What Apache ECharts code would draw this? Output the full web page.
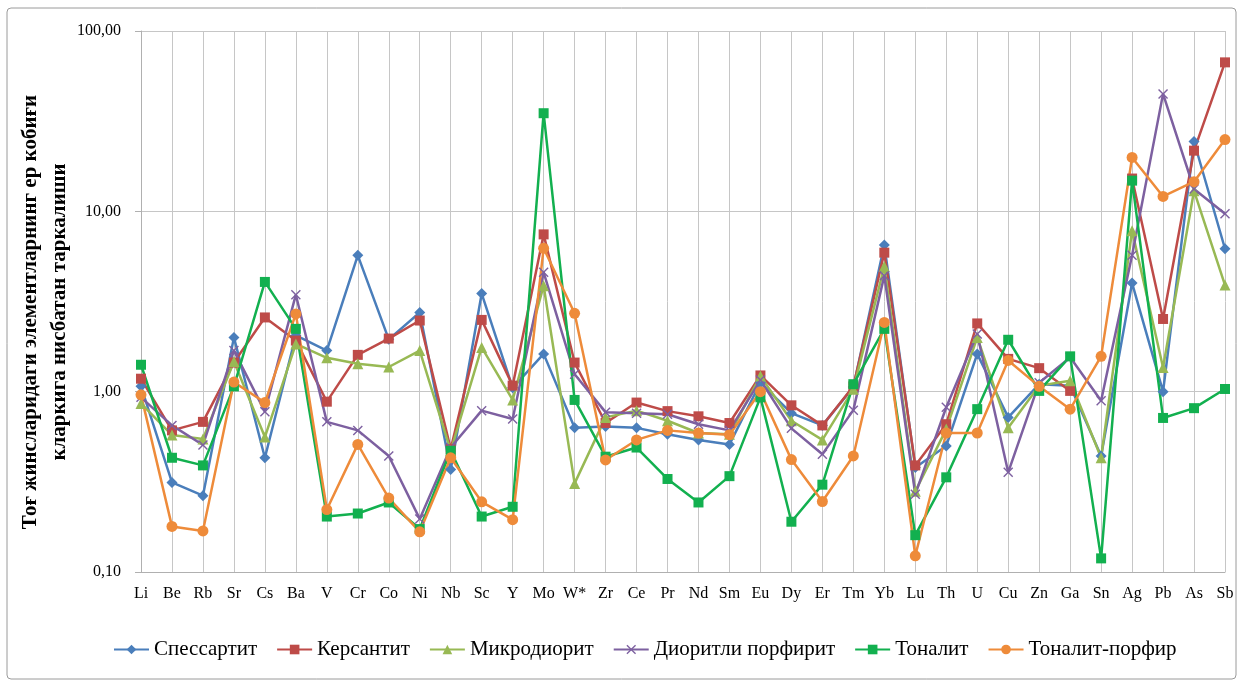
<!DOCTYPE html>
<html lang="uz" style="height: 100%">
<head>
<meta charset="utf-8">
<title>Elements relative to crustal clarke</title>
</head>
<body style="height: 100%; margin: 0; background: #fff">
<div id="container" style="width: 1244px; height: 689px"></div>

<script type="text/javascript" src="https://cdn.jsdelivr.net/npm/echarts/dist/echarts.min.js"></script>

<script type="text/javascript">

var categories = ['Li','Be','Rb','Sr','Cs','Ba','V','Cr','Co','Ni','Nb','Sc','Y','Mo','W*','Zr','Ce','Pr','Nd','Sm','Eu','Dy','Er','Tm','Yb','Lu','Th','U','Cu','Zn','Ga','Sn','Ag','Pb','As','Sb'];

var spessartite = [1.07,0.314,0.265,2.0,0.43,2.05,1.69,5.7,1.95,2.75,0.37,3.5,1.05,1.62,0.63,0.64,0.63,0.58,0.54,0.51,1.12,0.76,0.65,1.06,6.5,0.38,0.50,1.62,0.72,1.1,1.08,0.44,4.0,1.0,24.4,6.2];
var kersantite = [1.18,0.61,0.68,1.45,2.58,1.92,0.88,1.60,1.97,2.48,0.48,2.5,1.08,7.45,1.45,0.67,0.87,0.78,0.73,0.67,1.23,0.84,0.65,1.07,5.9,0.39,0.66,2.39,1.52,1.35,1.01,null,15.2,2.53,21.7,67];
var microdiorite = [0.86,0.575,0.547,1.47,0.56,1.84,1.54,1.43,1.37,1.69,0.47,1.76,0.9,3.87,0.31,0.72,0.785,0.69,0.59,0.58,1.22,0.69,0.54,1.03,4.95,0.28,0.62,2.0,0.63,1.08,1.15,0.43,7.8,1.36,13.0,3.9];
var dioritePorphyrite = [0.93,0.65,0.506,1.69,0.775,3.45,0.68,0.61,0.44,0.197,0.49,0.785,0.705,4.59,1.25,0.77,0.76,0.75,0.66,0.61,1.16,0.626,0.45,0.79,4.4,0.27,0.82,2.09,0.357,1.12,1.55,0.89,5.7,44.8,13.3,9.7];
var tonalite = [1.41,0.43,0.39,1.07,4.06,2.23,0.203,0.211,0.243,0.173,0.47,0.203,0.23,35,0.9,0.436,0.49,0.328,0.243,0.34,0.93,0.19,0.305,1.10,2.23,0.16,0.335,0.80,1.94,1.01,1.57,0.119,14.8,0.715,0.81,1.035];
var tonalitePorphyry = [0.96,0.179,0.169,1.13,0.87,2.7,0.222,0.51,0.257,0.167,0.43,0.245,0.195,6.24,2.72,0.418,0.54,0.61,0.59,0.577,1.0,0.42,0.246,0.44,2.42,0.123,0.59,0.59,1.49,1.07,0.8,1.57,19.9,12.1,14.6,25];

var yTicks = [0.1, 1, 10, 100];

var dom = document.getElementById('container');
var myChart = echarts.init(dom);

var serif = '"Liberation Serif", "DejaVu Serif", serif';
var crossPath = 'path://M0,1L1,0L5,4L9,0L10,1L6,5L10,9L9,10L5,6L1,10L0,9L4,5Z';

function mkSeries(name, data, color, symbol, size) {
    return {
        name: name,
        type: 'line',
        data: data,
        symbol: symbol,
        symbolSize: size,
        showAllSymbol: true,
        connectNulls: false,
        lineStyle: { width: 2.5, color: color },
        itemStyle: { color: color },
        emphasis: { disabled: true }
    };
}

var option = {
    animation: false,
    textStyle: { fontFamily: serif },
    graphic: [
        {
            type: 'rect',
            shape: { x: 7, y: 8, width: 1229, height: 671, r: 4 },
            style: { fill: 'none', stroke: '#9a9a9a', lineWidth: 1 }
        },
        {
            type: 'text',
            x: 45,
            y: 312,
            rotation: Math.PI / 2,
            style: {
                text: 'Тоғ жинсларидаги элементларнинг ер кобиғи\nкларкига нисбатан таркалиши',
                font: 'bold 21px ' + serif,
                fill: '#000',
                align: 'center',
                verticalAlign: 'middle',
                lineHeight: 29
            }
        }
    ],
    legend: {
        top: 634,
        left: 108,
        itemGap: 19,
        itemWidth: 35,
        itemHeight: 12,
        textStyle: { fontFamily: serif, fontSize: 21, color: '#000' },
        data: ['Спессартит', 'Керсантит', 'Микродиорит', 'Диоритли порфирит', 'Тоналит', 'Тоналит-порфир']
    },
    grid: {
        left: 141,
        right: 19,
        top: 31,
        bottom: 117
    },
    xAxis: {
        type: 'category',
        data: categories,
        boundaryGap: false,
        axisLine: { show: true, lineStyle: { color: '#b0b0b0', width: 1 } },
        axisTick: { show: false },
        axisLabel: { color: '#000', fontSize: 16, fontFamily: serif, margin: 14, interval: 0 },
        splitLine: { show: true, lineStyle: { color: '#c6c6c6', width: 1 } }
    },
    yAxis: {
        type: 'log',
        logBase: 10,
        min: yTicks[0],
        max: yTicks[yTicks.length - 1],
        axisLine: { show: true, lineStyle: { color: '#b0b0b0', width: 1 } },
        axisTick: { show: true, length: 6, lineStyle: { color: '#b0b0b0' } },
        axisLabel: {
            color: '#000',
            fontSize: 16,
            fontFamily: serif,
            margin: 20,
            formatter: function (v) { return v.toFixed(2).replace('.', ','); }
        },
        splitLine: { show: true, lineStyle: { color: '#c6c6c6', width: 1 } }
    },
    series: [
        mkSeries('Спессартит', spessartite, '#4a7ebb', 'diamond', 11),
        mkSeries('Керсантит', kersantite, '#be4b48', 'rect', 10),
        mkSeries('Микродиорит', microdiorite, '#98b954', 'triangle', 11),
        mkSeries('Диоритли порфирит', dioritePorphyrite, '#7d60a0', crossPath, 10),
        mkSeries('Тоналит', tonalite, '#12b04f', 'rect', 10),
        mkSeries('Тоналит-порфир', tonalitePorphyry, '#ee8b3a', 'circle', 11)
    ]
};

myChart.setOption(option);
window.addEventListener('resize', myChart.resize);
</script>
</body>
</html>
